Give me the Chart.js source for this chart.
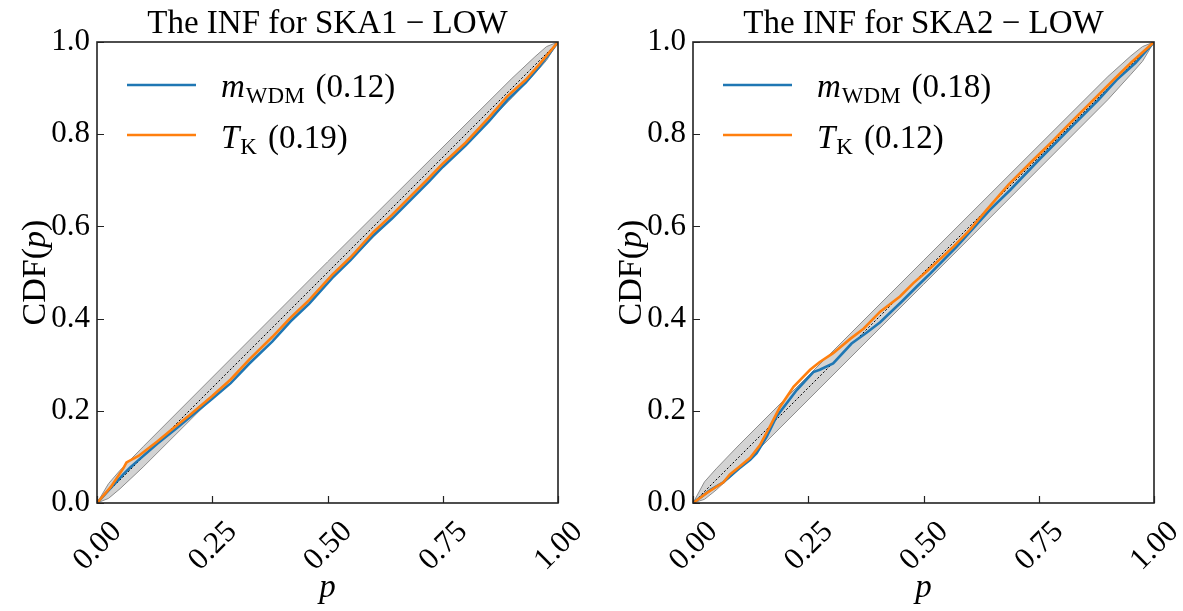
<!DOCTYPE html>
<html lang="en">
<head>
<meta charset="UTF-8">
<title>The INF for SKA1 / SKA2 - LOW</title>
<script src="https://cdn.jsdelivr.net/npm/chart.js"></script>
<style>
  body { margin: 0; background: #fff; overflow: hidden; }
  .wrap { position: absolute; top: 0; height: 611px; width: 596px; }
  #w1 { left: 0; }
  #w2 { left: 596px; }
</style>
</head>
<body>
<div class="wrap" id="w1"><canvas id="c1"></canvas></div>
<div class="wrap" id="w2"><canvas id="c2"></canvas></div>

<script>
  // tick values
  const xTicks = [0, 0.25, 0.5, 0.75, 1];
  const yTicks = [0, 0.2, 0.4, 0.6, 0.8, 1];

  // SKA1 - LOW
  const ska1WdmP   = [0, 0.03, 0.057, 0.072, 0.09, 0.13, 0.17, 0.2, 0.25, 0.29, 0.33, 0.38, 0.42, 0.46, 0.51, 0.55, 0.6, 0.64, 0.68, 0.72, 0.75, 0.8, 0.85, 0.89, 0.93, 0.96, 1];
  const ska1WdmCdf = [0, 0.033, 0.062, 0.077, 0.093, 0.128, 0.16, 0.185, 0.226, 0.26, 0.302, 0.35, 0.394, 0.432, 0.488, 0.527, 0.581, 0.617, 0.657, 0.697, 0.729, 0.776, 0.828, 0.874, 0.912, 0.947, 1];
  const ska1TkP    = [0, 0.03, 0.057, 0.064, 0.09, 0.13, 0.17, 0.2, 0.25, 0.29, 0.33, 0.38, 0.42, 0.46, 0.51, 0.55, 0.6, 0.64, 0.68, 0.72, 0.75, 0.8, 0.85, 0.89, 0.93, 0.96, 1];
  const ska1TkCdf  = [0, 0.035, 0.075, 0.088, 0.102, 0.133, 0.166, 0.19, 0.232, 0.268, 0.311, 0.36, 0.402, 0.44, 0.495, 0.533, 0.588, 0.625, 0.665, 0.705, 0.736, 0.782, 0.836, 0.882, 0.918, 0.952, 1];

  // SKA2 - LOW
  const ska2WdmP   = [0, 0.037, 0.066, 0.1, 0.124, 0.138, 0.16, 0.181, 0.225, 0.261, 0.275, 0.304, 0.344, 0.377, 0.406, 0.453, 0.485, 0.515, 0.572, 0.644, 0.688, 0.75, 0.821, 0.879, 0.919, 0.96, 1];
  const ska2WdmCdf = [0, 0.028, 0.045, 0.075, 0.094, 0.108, 0.144, 0.187, 0.245, 0.284, 0.289, 0.303, 0.346, 0.37, 0.392, 0.437, 0.469, 0.498, 0.556, 0.636, 0.679, 0.744, 0.816, 0.874, 0.918, 0.955, 1];
  const ska2TkP    = [0, 0.03, 0.066, 0.08, 0.1, 0.124, 0.145, 0.167, 0.189, 0.218, 0.254, 0.275, 0.304, 0.341, 0.37, 0.406, 0.449, 0.478, 0.51, 0.565, 0.6, 0.637, 0.684, 0.738, 0.78, 0.81, 0.868, 0.912, 0.95, 1];
  const ska2TkCdf  = [0, 0.022, 0.045, 0.062, 0.078, 0.098, 0.125, 0.166, 0.209, 0.252, 0.289, 0.306, 0.325, 0.356, 0.378, 0.415, 0.448, 0.477, 0.505, 0.556, 0.592, 0.636, 0.69, 0.744, 0.785, 0.816, 0.874, 0.918, 0.955, 1];

  // grey confidence band and the diagonal
  const bandP      = [0, 0.025, 0.05, 0.1, 0.5, 0.9, 0.95, 0.975, 1];
  const ska1BandHi = [0, 0.042, 0.071, 0.122, 0.523, 0.921, 0.968, 0.99, 1];
  const ska1BandLo = [0, 0.01, 0.031, 0.078, 0.477, 0.879, 0.932, 0.96, 1];
  const ska2BandHi = [0, 0.046, 0.074, 0.126, 0.526, 0.925, 0.97, 0.99, 1];
  const ska2BandLo = [0, 0.008, 0.028, 0.074, 0.474, 0.875, 0.93, 0.958, 1];
  const diagP = [0, 1];
  const diagCdf = [0, 1];

  const FONT = "'Liberation Serif', 'Times New Roman', serif";
  const BLUE = '#1f77b4';
  const ORANGE = '#ff7f0e';

  const pts = (xs, ys) => xs.map((x, i) => ({ x: x, y: ys[i] }));

  // title, axis labels, legend, box and inward ticks
  const decor = {
    id: 'decor',
    afterDraw(chart, args, opts) {
      const ctx = chart.ctx, a = chart.chartArea;
      const xs = chart.scales.x, ys = chart.scales.y;
      ctx.save();

      ctx.strokeStyle = '#222';
      ctx.lineWidth = 1.2;
      ctx.beginPath();
      xTicks.forEach(v => {
        const px = Math.round(xs.getPixelForValue(v)) + 0.5;
        ctx.moveTo(px, a.bottom); ctx.lineTo(px, a.bottom - 7);
      });
      yTicks.forEach(v => {
        const py = Math.round(ys.getPixelForValue(v)) + 0.5;
        ctx.moveTo(a.left, py); ctx.lineTo(a.left + 7, py);
      });
      ctx.stroke();

      ctx.lineWidth = 1.6;
      ctx.strokeRect(a.left, a.top, a.right - a.left, a.bottom - a.top);

      const cx = (a.left + a.right) / 2;
      ctx.fillStyle = '#000';
      ctx.textBaseline = 'alphabetic';
      ctx.textAlign = 'center';
      ctx.font = '33px ' + FONT;
      ctx.fillText(opts.title, cx, 33);

      ctx.font = 'italic 33px ' + FONT;
      ctx.fillText('p', cx, 597);

      // CDF(p)
      ctx.save();
      ctx.translate(45, (a.top + a.bottom) / 2);
      ctx.rotate(-Math.PI / 2);
      ctx.textAlign = 'left';
      const parts = [['CDF(', ''], ['p', 'italic '], [')', '']];
      let w = 0;
      parts.forEach(p => { ctx.font = p[1] + '34px ' + FONT; w += ctx.measureText(p[0]).width; });
      let x = -w / 2;
      parts.forEach(p => {
        ctx.font = p[1] + '34px ' + FONT;
        ctx.fillText(p[0], x, 0);
        x += ctx.measureText(p[0]).width;
      });
      ctx.restore();

      // legend
      ctx.textAlign = 'left';
      opts.entries.forEach((e, i) => {
        const ly = a.top + 43 + i * 50;
        ctx.strokeStyle = e.color;
        ctx.lineWidth = 2.6;
        ctx.beginPath();
        ctx.moveTo(a.left + 30, ly); ctx.lineTo(a.left + 99, ly);
        ctx.stroke();
        let tx = a.left + 124;
        const by = a.top + 55 + i * 51;
        ctx.font = 'italic 33px ' + FONT;
        ctx.fillText(e.main, tx, by);
        tx += ctx.measureText(e.main).width + 1;
        ctx.font = '23px ' + FONT;
        ctx.fillText(e.sub, tx, by + 6);
        tx += ctx.measureText(e.sub).width + 11;
        ctx.font = '33px ' + FONT;
        ctx.fillText(e.rest, tx, by);
      });

      ctx.restore();
    }
  };

  function makeChart(id, title, wdm, tk, band, legendVals) {
    const ctx = document.getElementById(id).getContext('2d');
    return new Chart(ctx, {
      type: 'line',
      data: {
        datasets: [
          { data: pts(tk[0], tk[1]), borderColor: ORANGE, borderWidth: 2.6, pointRadius: 0, tension: 0, fill: false, order: 0 },
          { data: pts(wdm[0], wdm[1]), borderColor: BLUE, borderWidth: 2.6, pointRadius: 0, tension: 0, fill: false, order: 1 },
          { data: pts(diagP, diagCdf), borderColor: '#000', borderWidth: 1, borderDash: [2, 2], pointRadius: 0, fill: false, order: 2 },
          { data: pts(bandP, band[0]), borderColor: '#8c8c8c', borderWidth: 1, pointRadius: 0, fill: false, order: 3 },
          { data: pts(bandP, band[1]), borderColor: '#8c8c8c', borderWidth: 1, pointRadius: 0, fill: '-1', backgroundColor: '#d3d3d3', order: 4 }
        ]
      },
      options: {
        responsive: true,
        maintainAspectRatio: false,
        animation: false,
        layout: { padding: { top: 42, right: 38, left: 0, bottom: 0 } },
        plugins: {
          legend: { display: false },
          tooltip: { enabled: false },
          decor: {
            title: title,
            entries: [
              { color: BLUE, main: 'm', sub: 'WDM', rest: '(' + legendVals[0] + ')' },
              { color: ORANGE, main: 'T', sub: 'K', rest: '(' + legendVals[1] + ')' }
            ]
          }
        },
        scales: {
          x: {
            type: 'linear', min: 0, max: 1,
            afterBuildTicks: s => { s.ticks = xTicks.map(v => ({ value: v })); },
            afterFit: s => { s.height = 108; },
            grid: { display: false, drawTicks: false },
            border: { display: false },
            ticks: {
              autoSkip: false, maxRotation: 45, minRotation: 45, padding: 11, labelOffset: 20,
              color: '#000', font: { family: FONT, size: 31 },
              callback: v => Number(v).toFixed(2)
            }
          },
          y: {
            type: 'linear', min: 0, max: 1,
            afterBuildTicks: s => { s.ticks = yTicks.map(v => ({ value: v })); },
            afterFit: s => { s.width = 97; },
            grid: { display: false, drawTicks: false },
            border: { display: false },
            ticks: {
              autoSkip: false, padding: 7,
              color: '#000', font: { family: FONT, size: 31 },
              callback: v => Number(v).toFixed(1)
            }
          }
        }
      },
      plugins: [decor]
    });
  }

  makeChart('c1', 'The INF for SKA1 \u2212 LOW',
    [ska1WdmP, ska1WdmCdf], [ska1TkP, ska1TkCdf], [ska1BandLo, ska1BandHi], ['0.12', '0.19']);
  makeChart('c2', 'The INF for SKA2 \u2212 LOW',
    [ska2WdmP, ska2WdmCdf], [ska2TkP, ska2TkCdf], [ska2BandLo, ska2BandHi], ['0.18', '0.12']);
</script>
</body>
</html>
